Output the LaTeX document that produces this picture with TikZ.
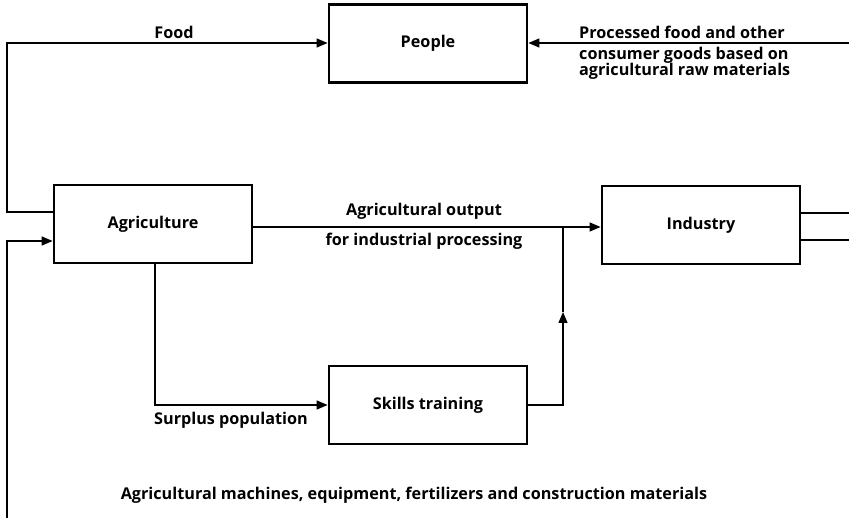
\documentclass[tikz,border=0pt]{standalone}
\usepackage{fontspec}
\setmainfont{Open Sans}
\usetikzlibrary{arrows.meta}

\begin{document}
\begin{tikzpicture}[x=1pt,y=-1pt,
    every node/.style={font=\fontsize{16.2}{18}\selectfont\bfseries},
    box/.style={draw, line width=2.8pt, minimum width=198pt, minimum height=78pt, inner sep=0pt},
    flow/.style={line width=1.4pt},
    arr/.style={flow, -{Triangle[length=11pt,width=9pt]}},
    lbl/.style={inner sep=0pt}]
  \useasboundingbox (0,0) rectangle (849,518);

  % sectors of the economy
  \node[box] (people) at (428,43.5) {People};
  \node[box] (agri) at (153,224) {Agriculture};
  \node[box] (industry) at (701,225) {Industry};
  \node[box] (skills) at (428,405) {Skills training};

  % turning points and free ends
  \coordinate (foodcorner) at (7,43);
  \coordinate (rightin) at (849,43);
  \coordinate (outA) at (849,213);
  \coordinate (outB) at (849,240);
  \coordinate (botleft) at (7,518);
  \coordinate (jn) at (563,227);
  \coordinate (upmark) at (563,312);

  % food from agriculture to people
  \draw[arr] ([yshift=12pt]agri.west) -| (foodcorner) -- (people.west |- foodcorner);
  % processed goods from industry to people
  \draw[arr] (rightin) -- (people.east |- rightin);
  % industry outputs leaving to the right
  \draw[flow] ([yshift=12pt]industry.east) -- (outA);
  \draw[flow] ([yshift=-15pt]industry.east) -- (outB);
  % inputs returning to agriculture
  \draw[arr] (botleft) |- ([yshift=-17pt]agri.west);
  % agricultural output to industry
  \draw[arr] (agri.east |- jn) -- (industry.west |- jn);
  % surplus population to skills training
  \draw[arr] ([xshift=2pt]agri.south) |- (skills.west);
  % trained labour joins the flow to industry
  \draw[arr] (skills.east) -| (upmark);
  \draw[flow] (upmark) -- (jn);

  % labels
  \node[lbl] (lfood) at (174,32) {Food};
  \node[lbl, anchor=west] (lproc1) at (579,32) {Processed food and other};
  \node[lbl, anchor=west] (lproc2) at (579,55) {consumer goods based on};
  \node[lbl, anchor=west] (lproc3) at (579,71) {agricultural raw materials};
  \node[lbl] (lout1) at (424,211) {Agricultural output};
  \node[lbl] (lout2) at (424,241) {for industrial processing};
  \node[lbl, anchor=west] (lsurplus) at (154,420) {Surplus population};
  \node[lbl] (lmach) at (414,495) {Agricultural machines, equipment, fertilizers and construction materials};
\end{tikzpicture}
\end{document}
